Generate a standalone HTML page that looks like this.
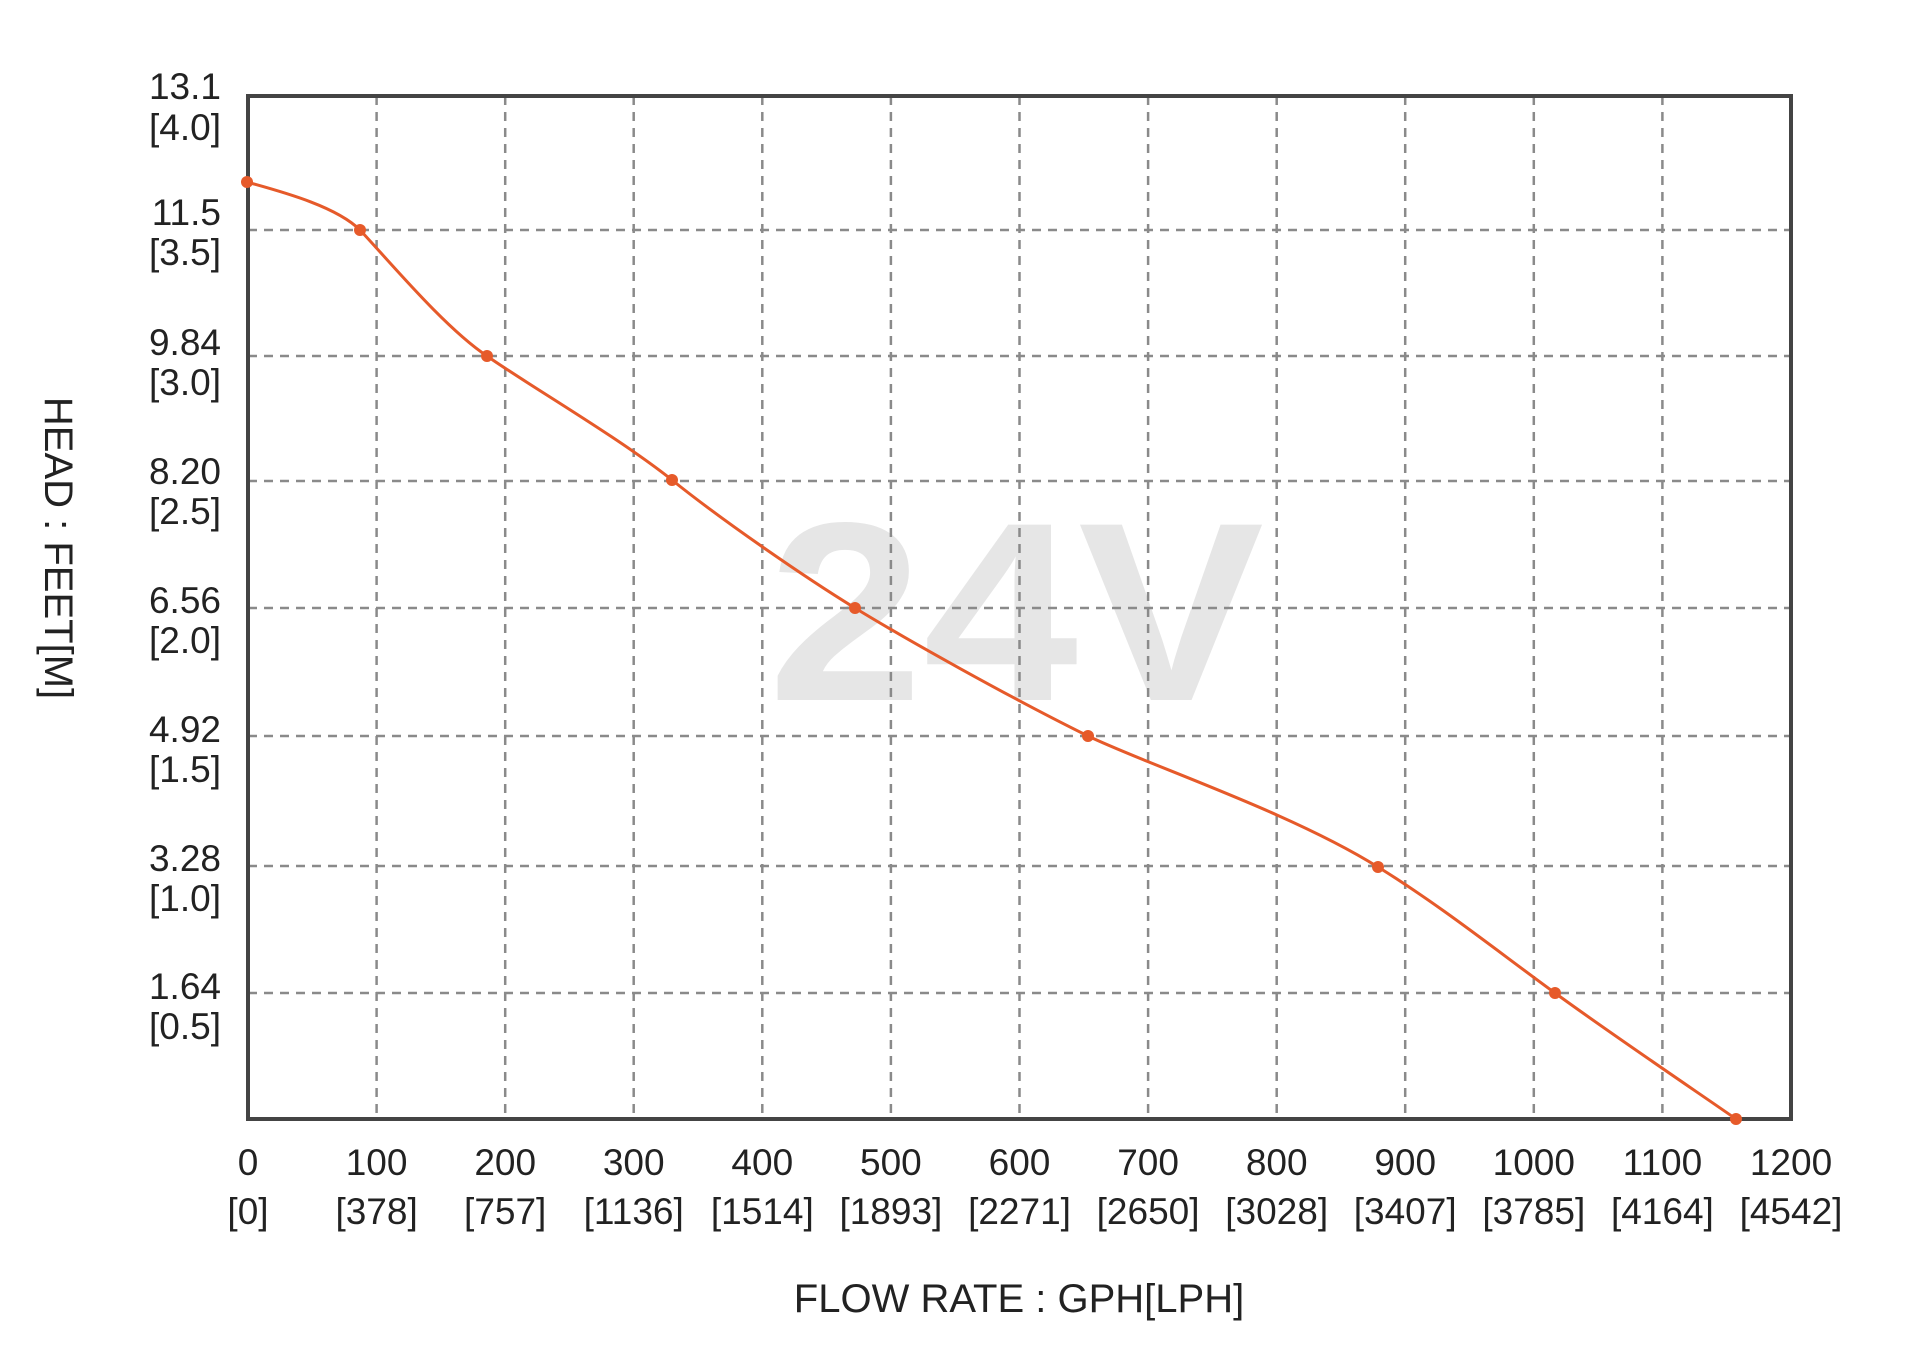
<!DOCTYPE html>
<html><head><meta charset="utf-8"><style>
html,body{margin:0;padding:0;background:#fff;}
svg{display:block;}
text{font-family:"Liberation Sans",Arial,sans-serif;fill:#222;}
</style></head><body>
<svg width="1920" height="1370" viewBox="0 0 1920 1370" xmlns="http://www.w3.org/2000/svg">
<text x="1016" y="700" font-size="255" font-weight="bold" text-anchor="middle" textLength="496" lengthAdjust="spacingAndGlyphs" style="fill:#e6e6e6">24V</text>
<g stroke="#8a8a8a" stroke-width="2.5" stroke-dasharray="9,7" fill="none">
<line x1="376.6" y1="96" x2="376.6" y2="1119"/><line x1="505.2" y1="96" x2="505.2" y2="1119"/><line x1="633.7" y1="96" x2="633.7" y2="1119"/><line x1="762.3" y1="96" x2="762.3" y2="1119"/><line x1="890.9" y1="96" x2="890.9" y2="1119"/><line x1="1019.5" y1="96" x2="1019.5" y2="1119"/><line x1="1148.1" y1="96" x2="1148.1" y2="1119"/><line x1="1276.7" y1="96" x2="1276.7" y2="1119"/><line x1="1405.2" y1="96" x2="1405.2" y2="1119"/><line x1="1533.8" y1="96" x2="1533.8" y2="1119"/><line x1="1662.4" y1="96" x2="1662.4" y2="1119"/>
<line x1="248" y1="230" x2="1791" y2="230"/><line x1="248" y1="356" x2="1791" y2="356"/><line x1="248" y1="481" x2="1791" y2="481"/><line x1="248" y1="608" x2="1791" y2="608"/><line x1="248" y1="736" x2="1791" y2="736"/><line x1="248" y1="866" x2="1791" y2="866"/><line x1="248" y1="993" x2="1791" y2="993"/>
</g>
<rect x="248" y="96" width="1543" height="1023" fill="none" stroke="#444" stroke-width="4"/>
<path d="M247,182 C275,190 335,205 360,230 C390,262 445,328 487,356 C525,383 618,437 672,480 C723,521 806,578 855,608 C904,638 1009,697 1088,736 C1148,765 1290,812 1378,867 C1441,906 1496,950 1555,993 C1614,1036 1706,1098 1736,1119" fill="none" stroke="#e65a2a" stroke-width="3"/>
<g fill="#e65a2a">
<circle cx="247" cy="182" r="6"/><circle cx="360" cy="230" r="6"/><circle cx="487" cy="356" r="6"/><circle cx="672" cy="480" r="6"/><circle cx="855" cy="608" r="6"/><circle cx="1088" cy="736" r="6"/><circle cx="1378" cy="867" r="6"/><circle cx="1555" cy="993" r="6"/><circle cx="1736" cy="1119" r="6"/>
</g>
<g font-size="37" text-anchor="end">
<text x="221" y="99">13.1</text><text x="221" y="140">[4.0]</text>
<text x="221" y="225">11.5</text><text x="221" y="265">[3.5]</text>
<text x="221" y="355">9.84</text><text x="221" y="395">[3.0]</text>
<text x="221" y="484">8.20</text><text x="221" y="524">[2.5]</text>
<text x="221" y="613">6.56</text><text x="221" y="653">[2.0]</text>
<text x="221" y="742">4.92</text><text x="221" y="782">[1.5]</text>
<text x="221" y="871">3.28</text><text x="221" y="911">[1.0]</text>
<text x="221" y="999">1.64</text><text x="221" y="1039">[0.5]</text>
</g>
<g font-size="37" text-anchor="middle">
<text x="248" y="1175">0</text><text x="248" y="1224">[0]</text>
<text x="376.6" y="1175">100</text><text x="376.6" y="1224">[378]</text>
<text x="505.2" y="1175">200</text><text x="505.2" y="1224">[757]</text>
<text x="633.7" y="1175">300</text><text x="633.7" y="1224">[1136]</text>
<text x="762.3" y="1175">400</text><text x="762.3" y="1224">[1514]</text>
<text x="890.9" y="1175">500</text><text x="890.9" y="1224">[1893]</text>
<text x="1019.5" y="1175">600</text><text x="1019.5" y="1224">[2271]</text>
<text x="1148.1" y="1175">700</text><text x="1148.1" y="1224">[2650]</text>
<text x="1276.7" y="1175">800</text><text x="1276.7" y="1224">[3028]</text>
<text x="1405.2" y="1175">900</text><text x="1405.2" y="1224">[3407]</text>
<text x="1533.8" y="1175">1000</text><text x="1533.8" y="1224">[3785]</text>
<text x="1662.4" y="1175">1100</text><text x="1662.4" y="1224">[4164]</text>
<text x="1791" y="1175">1200</text><text x="1791" y="1224">[4542]</text>
</g>
<text x="1019" y="1312" font-size="40" text-anchor="middle">FLOW RATE : GPH[LPH]</text>
<text x="0" y="0" font-size="40" text-anchor="middle" transform="translate(45,548) rotate(90)">HEAD : FEET[M]</text>
</svg>
</body></html>
